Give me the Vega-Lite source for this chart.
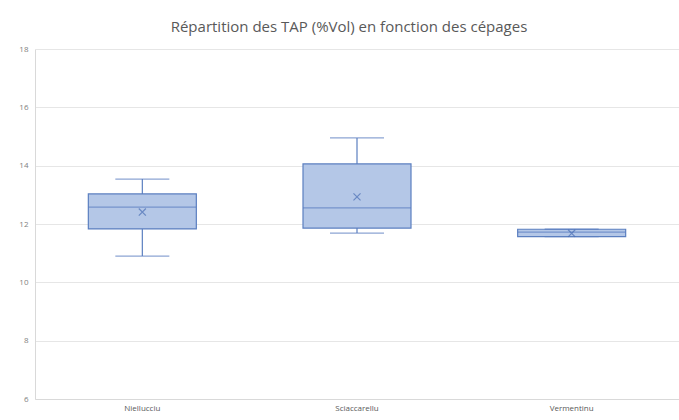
{
  "$schema": "https://vega.github.io/schema/vega-lite/v6.json",
  "width": 644,
  "height": 350,
  "autosize": "none",
  "padding": {"left": 35, "top": 49, "right": 0, "bottom": 21},
  "background": "white",
  "title": {
    "text": "Répartition des TAP (%Vol) en fonction des cépages",
    "font": "Open Sans",
    "fontSize": 15,
    "fontWeight": "normal",
    "color": "#595959",
    "anchor": "middle",
    "dx": -8,
    "offset": 10
  },
  "data": {
    "values": [
      {"cepage": "Niellucciu", "min": 10.9, "q1": 11.83, "median": 12.58, "q3": 13.03, "max": 13.54, "mean": 12.41},
      {"cepage": "Sciaccarellu", "min": 11.69, "q1": 11.86, "median": 12.55, "q3": 14.06, "max": 14.95, "mean": 12.93},
      {"cepage": "Vermentinu", "min": 11.57, "q1": 11.57, "median": 11.72, "q3": 11.82, "max": 11.82, "mean": 11.68}
    ]
  },
  "encoding": {
    "x": {
      "field": "cepage",
      "type": "nominal",
      "title": null,
      "scale": {"paddingInner": 0, "paddingOuter": 0},
      "axis": {
        "labelAngle": 0,
        "labelFont": "Open Sans",
        "labelFontSize": 8,
        "labelColor": "#595959",
        "ticks": false,
        "labelPadding": 5,
        "domainColor": "#d9d9d9",
        "grid": false
      }
    }
  },
  "layer": [
    {
      "mark": {"type": "rule", "color": "#5b7fc0", "strokeWidth": 1.2},
      "encoding": {
        "y": {
          "field": "min",
          "type": "quantitative",
          "title": null,
          "scale": {"domain": [6, 18], "nice": false, "zero": false},
          "axis": {
            "values": [6, 8, 10, 12, 14, 16, 18],
            "labelFont": "Open Sans",
            "labelFontSize": 8,
            "labelColor": "#7f7f7f",
            "ticks": false,
            "labelPadding": 7,
            "domainColor": "#d9d9d9",
            "gridColor": "#e6e6e6",
            "grid": true
          }
        },
        "y2": {"field": "max"}
      }
    },
    {
      "mark": {"type": "bar", "fill": "#b4c7e7", "stroke": "#5b7fc0", "strokeWidth": 1.2, "width": 108},
      "encoding": {
        "y": {"field": "q1", "type": "quantitative"},
        "y2": {"field": "q3"}
      }
    },
    {
      "mark": {"type": "tick", "color": "#5b7fc0", "size": 108, "thickness": 1.3},
      "encoding": {"y": {"field": "median", "type": "quantitative"}}
    },
    {
      "mark": {"type": "tick", "color": "#5b7fc0", "size": 54, "thickness": 1.3},
      "encoding": {"y": {"field": "min", "type": "quantitative"}}
    },
    {
      "mark": {"type": "tick", "color": "#5b7fc0", "size": 54, "thickness": 1.3},
      "encoding": {"y": {"field": "max", "type": "quantitative"}}
    },
    {
      "mark": {"type": "point", "shape": "M-1,-1L1,1M-1,1L1,-1", "filled": false, "stroke": "#4a6fb5", "strokeWidth": 1.2, "size": 50},
      "encoding": {"y": {"field": "mean", "type": "quantitative"}}
    }
  ],
  "config": {"view": {"stroke": null}}
}
